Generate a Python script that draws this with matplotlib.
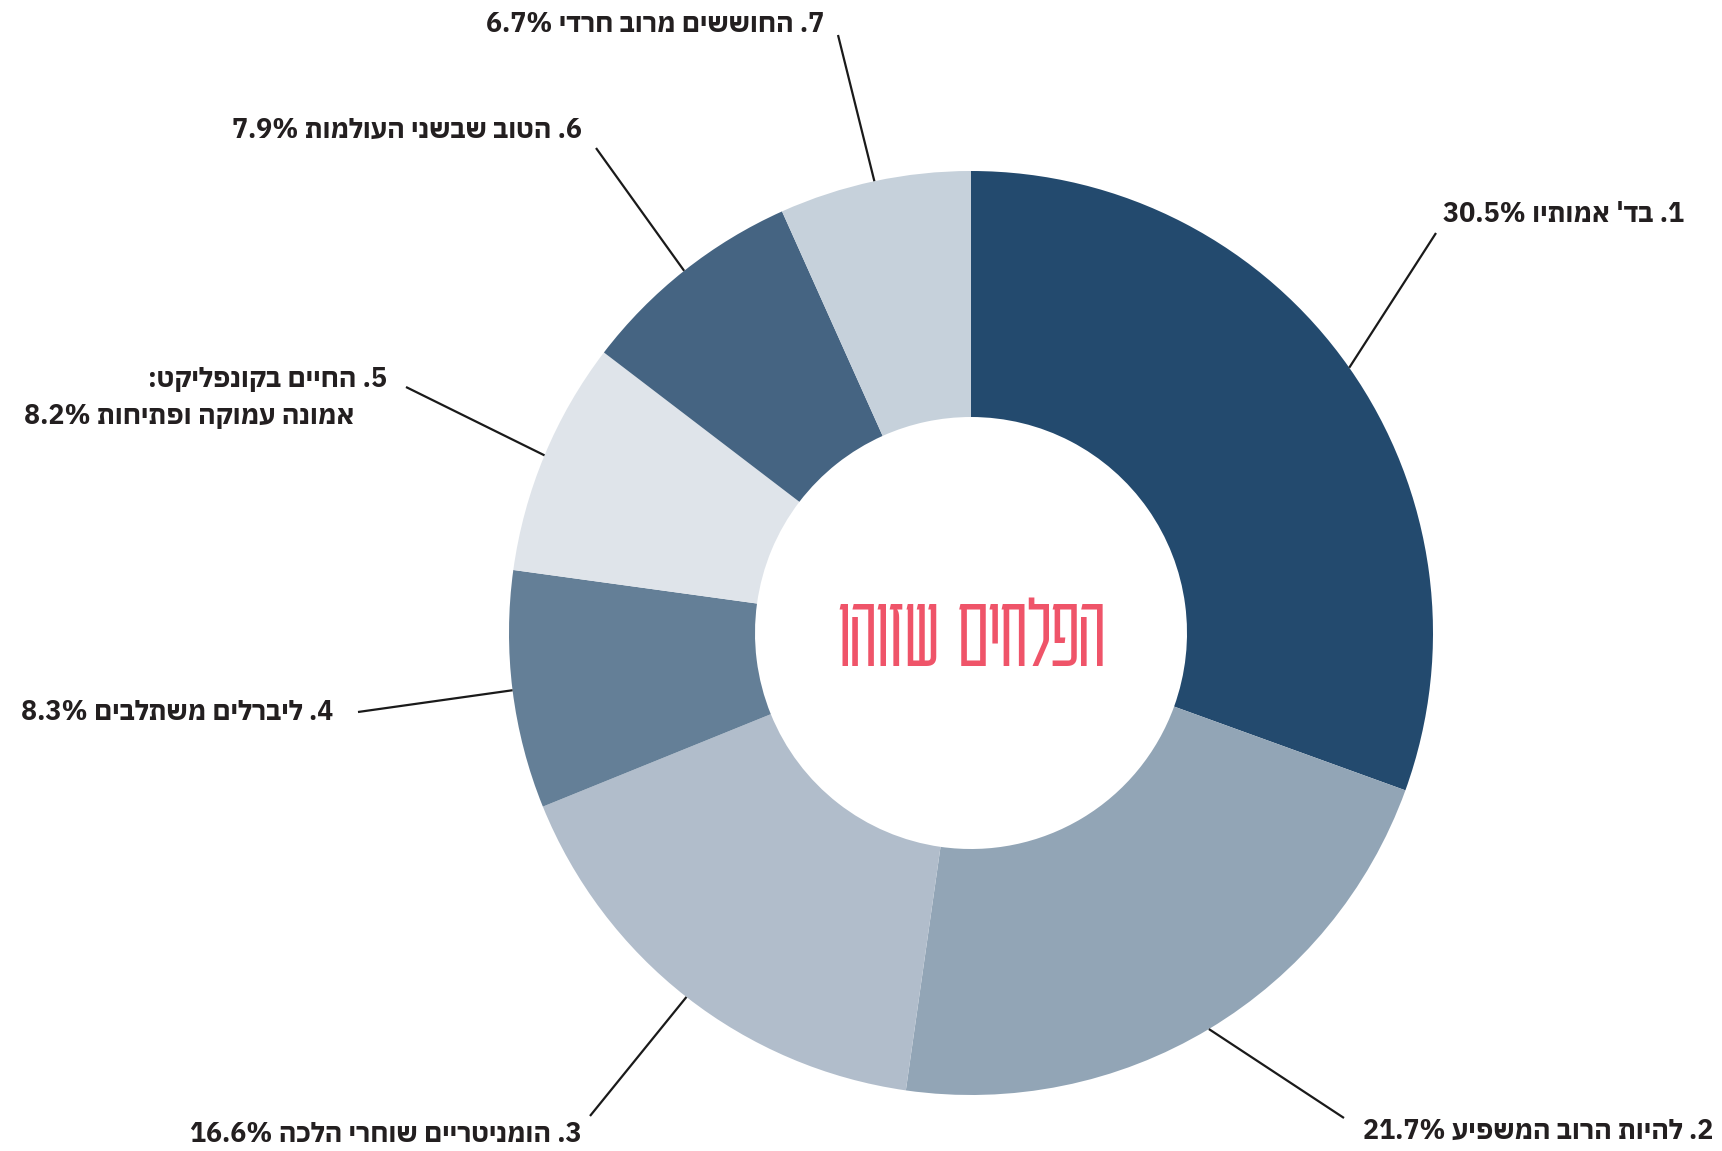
import re
import matplotlib.pyplot as plt
import numpy as np

# ---------------- data ----------------
labels = ["1. בד' אמותיו",
          "2. להיות הרוב המשפיע",
          "3. הומניטריים שוחרי הלכה",
          "4. ליברלים משתלבים",
          "5. החיים בקונפליקט:\nאמונה עמוקה ופתיחות",
          "6. הטוב שבשני העולמות",
          "7. החוששים מרוב חרדי"]
values = [30.5, 21.7, 16.6, 8.3, 8.2, 7.9, 6.7]
colors = ["#234a6e", "#92a5b6", "#b1bdcb", "#647f97", "#dfe4ea", "#456482", "#c6d1db"]
title = "הפלחים שזוהו"

# ---------------- layout (pixels, top-left origin) ----------------
W, H = 1722, 1151
cx, cy = 971, 633
R, Rin = 462, 216
line_ends = [(1436, 233), (1344, 1118), (590, 1116), (358, 712), (406, 387), (596, 148), (838, 35)]
text_anchors = [[(1684, 214)], [(1713, 1131)], [(582, 1134)], [(333, 712)],
                [(387, 379), (354, 416)], [(582, 130)], [(824, 24)]]


def visual(s):
    """Convert logical-order Hebrew (RTL) line to visual left-to-right order."""
    toks = s.split(" ")
    out = []
    for t in toks:
        if any('\u0590' <= c <= '\u05ff' for c in t):
            out.append(t[::-1])
        elif re.fullmatch(r"\d+\.", t):
            out.append("." + t[:-1])
        else:
            out.append(t)
    return " ".join(out[::-1])


fig = plt.figure(figsize=(W / 100, H / 100), dpi=100)
ax = fig.add_axes([0, 0, 1, 1])

wedges, _ = ax.pie(values, colors=colors, startangle=90, counterclock=False,
                   center=(cx, H - cy), radius=R,
                   wedgeprops=dict(width=R - Rin, linewidth=0))
ax.set_xlim(0, W)
ax.set_ylim(0, H)
ax.set_aspect('equal')
ax.axis('off')

font = ['IBM Plex Sans Hebrew', 'Liberation Sans', 'DejaVu Sans']
for i, w in enumerate(wedges):
    ang = np.deg2rad((w.theta1 + w.theta2) / 2)
    x0 = cx + R * np.cos(ang)
    y0 = (H - cy) + R * np.sin(ang)
    ex, ey = line_ends[i]
    ax.plot([x0, ex], [y0, H - ey], color='#1a1a1a', lw=1.6, solid_capstyle='butt')
    lines = labels[i].split("\n")
    lines[-1] = lines[-1] + f" {values[i]}%"
    for ln, (tx, ty) in zip(lines, text_anchors[i]):
        ax.text(tx, H - ty, visual(ln), ha='right', va='center', fontsize=19.3,
                fontweight='bold', color='#231f20', family=font)

ax.text(cx, H - cy + 4, visual(title), ha='center', va='center_baseline', fontsize=75,
        fontweight='light', color='#ef5469', family=['Karantina', 'DejaVu Sans'])

fig.savefig('out.png', dpi=100)
